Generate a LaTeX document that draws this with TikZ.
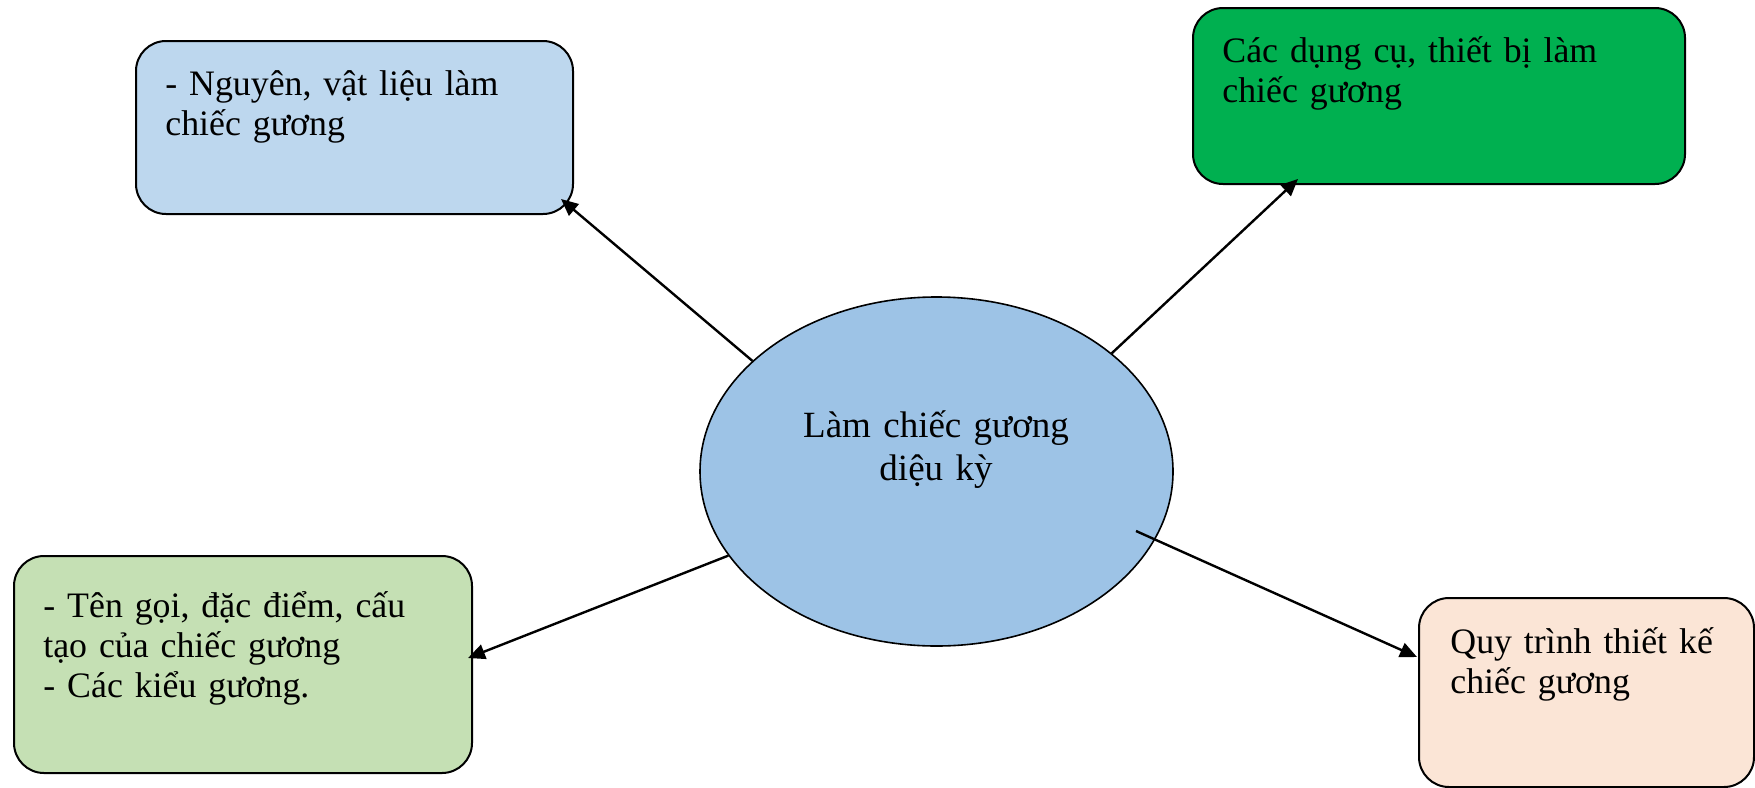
\documentclass[tikz,border=0pt]{standalone}
\usepackage{fontspec}
\setmainfont{Liberation Serif}
\usetikzlibrary{arrows.meta,shapes.geometric}
\definecolor{hopxanh}{HTML}{BDD7EE}
\definecolor{hoplam}{HTML}{00B050}
\definecolor{hopluc}{HTML}{C5E0B4}
\definecolor{hophong}{HTML}{FBE5D6}
\definecolor{elip}{HTML}{9DC3E6}
\begin{document}
\begin{tikzpicture}[x=0.5pt,y=-0.5pt,
	hop/.style={draw,line width=1pt,rounded corners=15pt,anchor=north west,inner sep=0pt},
	chu/.style={anchor=base west,inner sep=0pt,text width=225pt,align=left,
		font=\fontsize{17.9pt}{20pt}\selectfont},
	mui/.style={line width=1.2pt,-{Triangle[length=8.5pt,width=7.5pt]}}]
	\useasboundingbox (0,0) rectangle (1755,787);
	%hình elip ở giữa
	\node[ellipse,draw,line width=0.8pt,fill=elip,inner sep=0pt,
		minimum width=236.5pt,minimum height=174.5pt] (tam) at (936.5,471.5) {};
	\node[chu,align=center,anchor=base,font=\fontsize{18.5pt}{21.5pt}\selectfont]
		(tamchu) at (936,437) {Làm chiếc gương\\diệu kỳ};
	%các hộp
	\node[hop,fill=hopxanh,minimum width=218.5pt,minimum height=86.5pt] (vatlieu) at (135,40) {};
	\node[chu] (vatlieuchu) at (165,95) {- Nguyên, vật liệu làm\\chiếc gương};
	\node[hop,fill=hoplam,minimum width=246pt,minimum height=88pt] (dungcu) at (1192,7) {};
	\node[chu] (dungcuchu) at (1222,62) {Các dụng cụ, thiết bị làm\\chiếc gương};
	\node[hop,fill=hopluc,minimum width=229pt,minimum height=108.5pt] (dacdiem) at (13,555) {};
	\node[chu] (dacdiemchu) at (43,617) {- Tên gọi, đặc điểm, cấu\\tạo của chiếc gương\\- Các kiểu gương.};
	\node[hop,fill=hophong,minimum width=167.5pt,minimum height=94.5pt] (quytrinh) at (1418,597) {};
	\node[chu] (quytrinhchu) at (1450,653) {Quy trình thiết kế\\chiếc gương};
	%mũi tên
	\coordinate (dinhA) at (561,199);
	\coordinate (dinhB) at (1298,179);
	\coordinate (dinhC) at (468,658);
	\coordinate (dinhD) at (1417,657);
	\coordinate (goc) at (1136,531);
	\draw[mui] (tam.149.3) -- (dinhA);
	\draw[mui] (tam.34.2) -- (dinhB);
	\draw[mui] (tam.202.2) -- (dinhC);
	\draw[mui] (goc) -- (dinhD);
\end{tikzpicture}
\end{document}
